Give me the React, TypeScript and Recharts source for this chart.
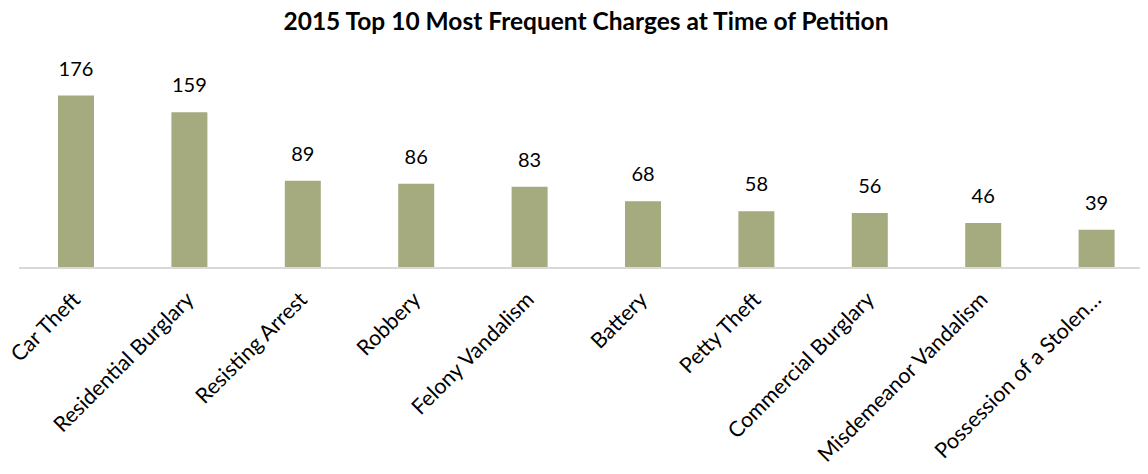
import React from "react";
import { BarChart, Bar, XAxis, YAxis, LabelList } from "recharts";

const charges = [
  "Car Theft",
  "Residential Burglary",
  "Resisting Arrest",
  "Robbery",
  "Felony Vandalism",
  "Battery",
  "Petty Theft",
  "Commercial Burglary",
  "Misdemeanor Vandalism",
  "Possession of a Stolen…",
];

const counts = [176, 159, 89, 86, 83, 68, 58, 56, 46, 39];

const data = charges.map((charge, i) => ({ charge, count: counts[i] }));

const FONT = "Lato, 'Open Sans', sans-serif";

const SlantedTick = (props: any) => {
  const { x, y, payload } = props;
  return (
    <text
      transform={`translate(${x + 6},${y + 33}) rotate(-45)`}
      textAnchor="end"
      fontSize={21.5}
      fontFamily={FONT}
      fill="#000"
    >
      {payload.value}
    </text>
  );
};

const App = () => {
  return (
    <div
      style={{
        position: "relative",
        margin: -8,
        width: 1148,
        height: 474,
        overflow: "hidden",
        background: "#fff",
      }}
    >
      <div
        style={{
          position: "absolute",
          top: 6,
          left: 0,
          width: 1172,
          textAlign: "center",
          fontFamily: FONT,
          fontWeight: "bold",
          fontSize: 24.5,
          color: "#000",
        }}
      >
        2015 Top 10 Most Frequent Charges at Time of Petition
      </div>
      <BarChart
        width={1160}
        height={474}
        data={data}
        margin={{ top: 72, right: 7, left: 19, bottom: 0 }}
      >
        <XAxis
          dataKey="charge"
          interval={0}
          height={206}
          tickSize={0}
          tickMargin={0}
          stroke="#d9d9d9"
          strokeWidth={2}
          tick={<SlantedTick />}
        />
        <YAxis hide domain={[0, 200]} />
        <Bar dataKey="count" fill="#a5aa7f" barSize={36} isAnimationActive={false}>
          <LabelList
            dataKey="count"
            position="top"
            offset={20}
            fontSize={20}
            fontFamily={FONT}
            fill="#000"
          />
        </Bar>
      </BarChart>
    </div>
  );
};

export default App;
